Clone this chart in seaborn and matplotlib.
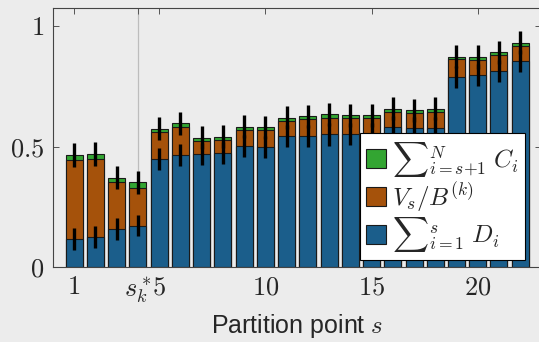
import numpy as np
import pandas as pd
import matplotlib
matplotlib.use("Agg")
import matplotlib.pyplot as plt
from matplotlib.patches import Patch
import seaborn as sns

# values
s_points = list(range(1, 23))
D_sum = [0.118, 0.125, 0.157, 0.172, 0.449, 0.465, 0.469, 0.472, 0.501, 0.499, 0.543,
         0.543, 0.550, 0.553, 0.553, 0.579, 0.576, 0.576, 0.788, 0.798, 0.814, 0.856]
V_over_B = [0.325, 0.324, 0.195, 0.158, 0.111, 0.117, 0.055, 0.054, 0.067, 0.068, 0.064,
            0.071, 0.070, 0.065, 0.065, 0.064, 0.061, 0.067, 0.074, 0.061, 0.066, 0.062]
C_sum = [0.021, 0.021, 0.018, 0.022, 0.013, 0.014, 0.012, 0.014, 0.014, 0.013, 0.013,
         0.012, 0.014, 0.012, 0.012, 0.013, 0.013, 0.013, 0.010, 0.012, 0.011, 0.012]
D_err = [0.046, 0.046, 0.045, 0.045, 0.046, 0.046, 0.046, 0.046, 0.046, 0.046, 0.046,
         0.046, 0.046, 0.046, 0.046, 0.046, 0.046, 0.046, 0.046, 0.046, 0.046, 0.046]
tot_err = [0.05, 0.05, 0.048, 0.048, 0.048, 0.048, 0.048, 0.048, 0.048, 0.048, 0.048,
           0.048, 0.048, 0.048, 0.048, 0.048, 0.048, 0.048, 0.048, 0.048, 0.048, 0.048]
s_star = 4

x_ticks = [1, s_star, 5, 10, 15, 20]
x_labels = ["$1$", "$s_k^*$", "$5$", "$10$", "$15$", "$20$"]
y_ticks = [0, 0.5, 1]
y_labels = ["$0$", "$0.5$", "$1$"]

blue = "#1b5e8b"
orange = "#a5520b"
green = "#33a532"
bg = "#ececec"

df = pd.DataFrame({"s": s_points, "D": D_sum, "V": V_over_B, "C": C_sum})
df["DV"] = df["D"] + df["V"]
df["total"] = df["DV"] + df["C"]

sns.set_theme(style="ticks")
plt.rcParams["mathtext.fontset"] = "cm"
plt.rcParams["font.family"] = ["Liberation Sans", "DejaVu Sans"]

fig = plt.figure(figsize=(5.39, 3.42), dpi=100, facecolor=bg)
ax = fig.add_axes([0.098, 0.219, 0.9066, 0.758])
ax.set_facecolor(bg)

ax.axvline(s_star, color="#bdbdbd", lw=0.9, zorder=0)

bar_kw = dict(native_scale=True, width=0.8, edgecolor="#1a1a1a", linewidth=0.8,
              errorbar=None, ax=ax, zorder=2)
sns.barplot(data=df, x="s", y="total", color=green, saturation=1, **bar_kw)
sns.barplot(data=df, x="s", y="DV", color=orange, saturation=1, **bar_kw)
sns.barplot(data=df, x="s", y="D", color=blue, saturation=1, **bar_kw)

ax.errorbar(df["s"], df["D"], yerr=D_err, fmt="none", ecolor="black",
            elinewidth=2.4, capsize=0, zorder=3)
ax.errorbar(df["s"], df["total"], yerr=tot_err, fmt="none", ecolor="black",
            elinewidth=2.4, capsize=0, zorder=3)

ax.set_xlim(0, 23)
ax.set_ylim(0, 1.075)
ax.set_xticks(x_ticks)
ax.set_xticklabels(x_labels, fontsize=19)
ax.set_yticks(y_ticks)
ax.set_yticklabels(y_labels, fontsize=19)
ax.tick_params(direction="in", top=True, right=True, length=4.5, width=0.7,
               color="#555555", pad=6)
for sp in ax.spines.values():
    sp.set_visible(True)
    sp.set_color("#444444")
    sp.set_linewidth(0.8)

ax.set_xlabel("Partition point $s$", fontsize=18, labelpad=5)
ax.set_ylabel("")

handles = [Patch(facecolor=green, edgecolor="#1a1a1a", lw=0.8),
           Patch(facecolor=orange, edgecolor="#1a1a1a", lw=0.8),
           Patch(facecolor=blue, edgecolor="#1a1a1a", lw=0.8)]
labels = [r"${\sum}_{i{=}s{+}1}^{N}\;C_i$", r"$V_s/B^{(k)}$", r"${\sum}_{i{=}1}^{s}\;D_i$"]
leg = ax.legend(handles, labels, loc="upper left", bbox_to_anchor=(0.628, 0.516),
                borderaxespad=0, fontsize=18, frameon=True, fancybox=False,
                framealpha=1, edgecolor="black", handlelength=0.8, handleheight=0.8,
                handletextpad=0.25, labelspacing=0.05, borderpad=0.25)
leg.get_frame().set_linewidth(0.8)
leg.set_zorder(5)

fig.savefig("out.png", dpi=100, facecolor=bg)
